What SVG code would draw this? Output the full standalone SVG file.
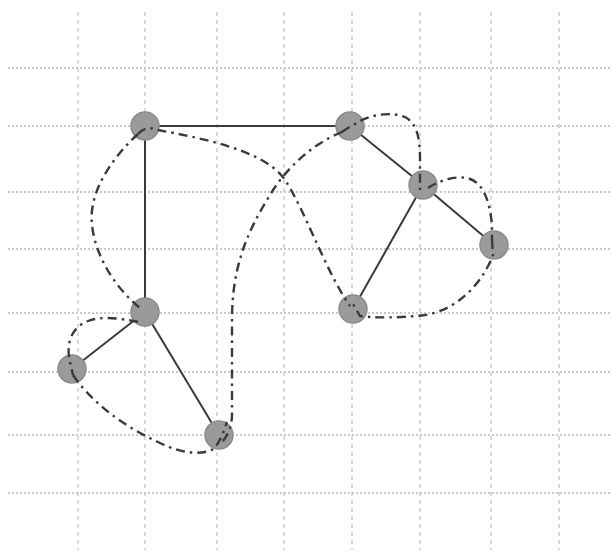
<svg xmlns="http://www.w3.org/2000/svg" width="611" height="556" viewBox="0 0 611 556">
<defs>
<style>
.bg{fill:#fff}
.gh{stroke:#b8b8b8;stroke-width:1.6;stroke-dasharray:2 2;fill:none}
.gv{stroke:#c0c0c0;stroke-width:1.2;stroke-dasharray:4 4;fill:none}
.edge{stroke:#3a3a3a;stroke-width:2;fill:none}
.curve{stroke:#3a3a3a;stroke-width:2.4;fill:none;stroke-dasharray:9 5 2.5 5;stroke-linecap:butt}
.node{fill:#9a9a9a;stroke:#8c8c8c;stroke-width:1.5}
</style>
</defs>
<rect class="bg" x="0" y="0" width="611" height="556"/>
<g id="grid">
<path class="gh" d="M8,68H611M8,126H611M8,192H611M8,249H611M8,313H611M8,372H611M8,435H611M8,493H611"/>
<path class="gv" d="M78,12V550M145,12V550M217,12V550M284,12V550M352,12V550M420,12V550M491,12V550M559,12V550"/>
</g>
<g id="edges">
<line class="edge" x1="145" y1="126" x2="350" y2="126"/>
<line class="edge" x1="145" y1="126" x2="145" y2="312"/>
<line class="edge" x1="350" y1="126" x2="423" y2="185"/>
<line class="edge" x1="423" y1="185" x2="494" y2="245"/>
<line class="edge" x1="423" y1="185" x2="353" y2="309"/>
<line class="edge" x1="145" y1="312" x2="72" y2="369"/>
<line class="edge" x1="145" y1="312" x2="219" y2="435"/>
</g>
<g id="nodeA"><circle class="node" cx="145" cy="126" r="14"/></g>
<g id="nodeB"><circle class="node" cx="350" cy="126" r="14"/></g>
<g id="nodeC"><circle class="node" cx="423" cy="185" r="14"/></g>
<g id="nodeD"><circle class="node" cx="494" cy="245" r="14"/></g>
<g id="nodeE"><circle class="node" cx="145" cy="312" r="14"/></g>
<g id="nodeF"><circle class="node" cx="353" cy="309" r="14"/></g>
<g id="nodeG"><circle class="node" cx="72" cy="369" r="14"/></g>
<g id="nodeH"><circle class="node" cx="219" cy="435" r="14"/></g>
<g id="curves">
<path class="curve" d="M138,134 C115,155 88,190 92,225 C96,260 118,290 140,308"/>
<path class="curve" d="M138,134 C146,126 152,128 158,130 C200,138 265,150 285,180 C305,210 325,270 350,306"/>
<path class="curve" d="M342,132 C310,145 285,170 270,195 C245,235 232,270 232,320 L232,415 C232,425 228,436 222,442"/>
<path class="curve" d="M342,132 C350,126 356,124 362,120 C375,114 392,112 405,117 C418,124 420,140 420,160 L420,190"/>
<path class="curve" d="M428,188 C440,180 455,176 467,178 C485,182 490,205 492,225 L492,240"/>
<path class="curve" d="M492,240 L493,255 C483,282 458,310 425,315 C400,318 375,318 360,316 L353,304"/>
<path class="curve" d="M138,322 C120,318 100,316 88,321 C70,328 66,345 70,362 L73,375"/>
<path class="curve" d="M73,375 C90,400 120,425 160,443 C185,455 205,455 215,448 L222,436 L227,422"/>
</g>
</svg>
